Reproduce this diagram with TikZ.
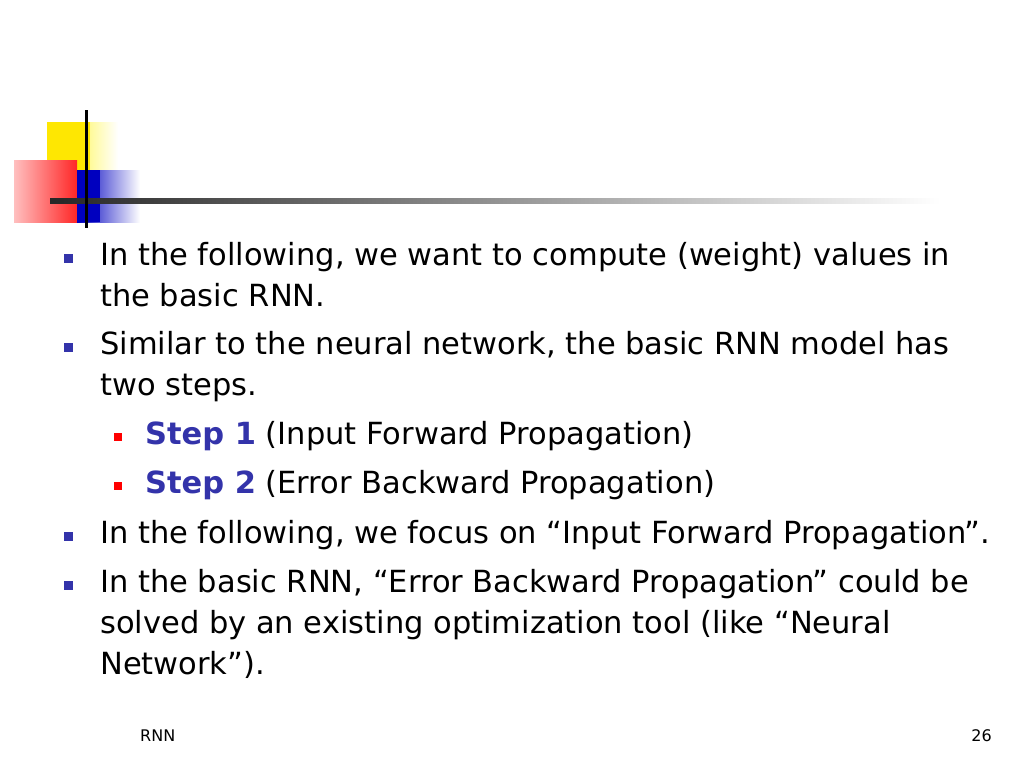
\documentclass[tikz,border=0pt]{standalone}
\usepackage{fontspec}
\setmainfont{DejaVu Sans}
\usetikzlibrary{fadings}
\definecolor{bul}{HTML}{3333AA}
\definecolor{stp}{HTML}{3333AA}
\tikzset{ln/.style={anchor=base west,inner sep=0pt,font=\fontsize{30.5}{30.5}\selectfont},
 bsq/.style={fill=bul},rsq/.style={fill=red}}
\begin{document}
\begin{tikzpicture}[x=1pt,y=-1pt]
\useasboundingbox (0,0) rectangle (1024,768);
% logo
\shade[left color=yellow!90!orange, right color=white] (47,122) rectangle (118,190);
\fill[yellow!90!orange] (47,122) rectangle (90,190);
\shade[left color=red!25, right color=red!85] (14,160) rectangle (77,222);
\shade[left color=blue!75!black, right color=white] (77,170) rectangle (140,222);
\fill[blue!75!black] (77,170) rectangle (100,222);
\shade[left color=black!85, right color=white] (50,198) rectangle (940,203);
\fill[black] (84.5,110) rectangle (88,228);
% bullets
\foreach \y in {254,343,532,581} \fill[bul] (64,\y) rectangle +(9,9);
\foreach \y in {433,482} \fill[red] (114,\y) rectangle +(8,8);
\node[ln] (l1) at (100,265) {In the following, we want to compute (weight) values in};
\node[ln] (l2) at (100,306) {the basic RNN.};
\node[ln] (l3) at (100,354) {Similar to the neural network, the basic RNN model has};
\node[ln] (l4) at (100,395) {two steps.};
\node[ln] (l5) at (145,444) {\textcolor{stp}{\textbf{Step 1}} (Input Forward Propagation)};
\node[ln] (l6) at (145,493) {\textcolor{stp}{\textbf{Step 2}} (Error Backward Propagation)};
\node[ln] (l7) at (100,543) {In the following, we focus on “Input Forward Propagation”.};
\node[ln] (l8) at (100,592) {In the basic RNN, “Error Backward Propagation” could be};
\node[ln] (l9) at (100,633) {solved by an existing optimization tool (like “Neural};
\node[ln] (l10) at (100,674) {Network”).};
\node[anchor=base west,inner sep=0pt,font=\fontsize{16}{16}\selectfont] (f1) at (140,741) {RNN};
\node[anchor=base east,inner sep=0pt,font=\fontsize{16}{16}\selectfont] (f2) at (992,741) {26};
\end{tikzpicture}
\end{document}
